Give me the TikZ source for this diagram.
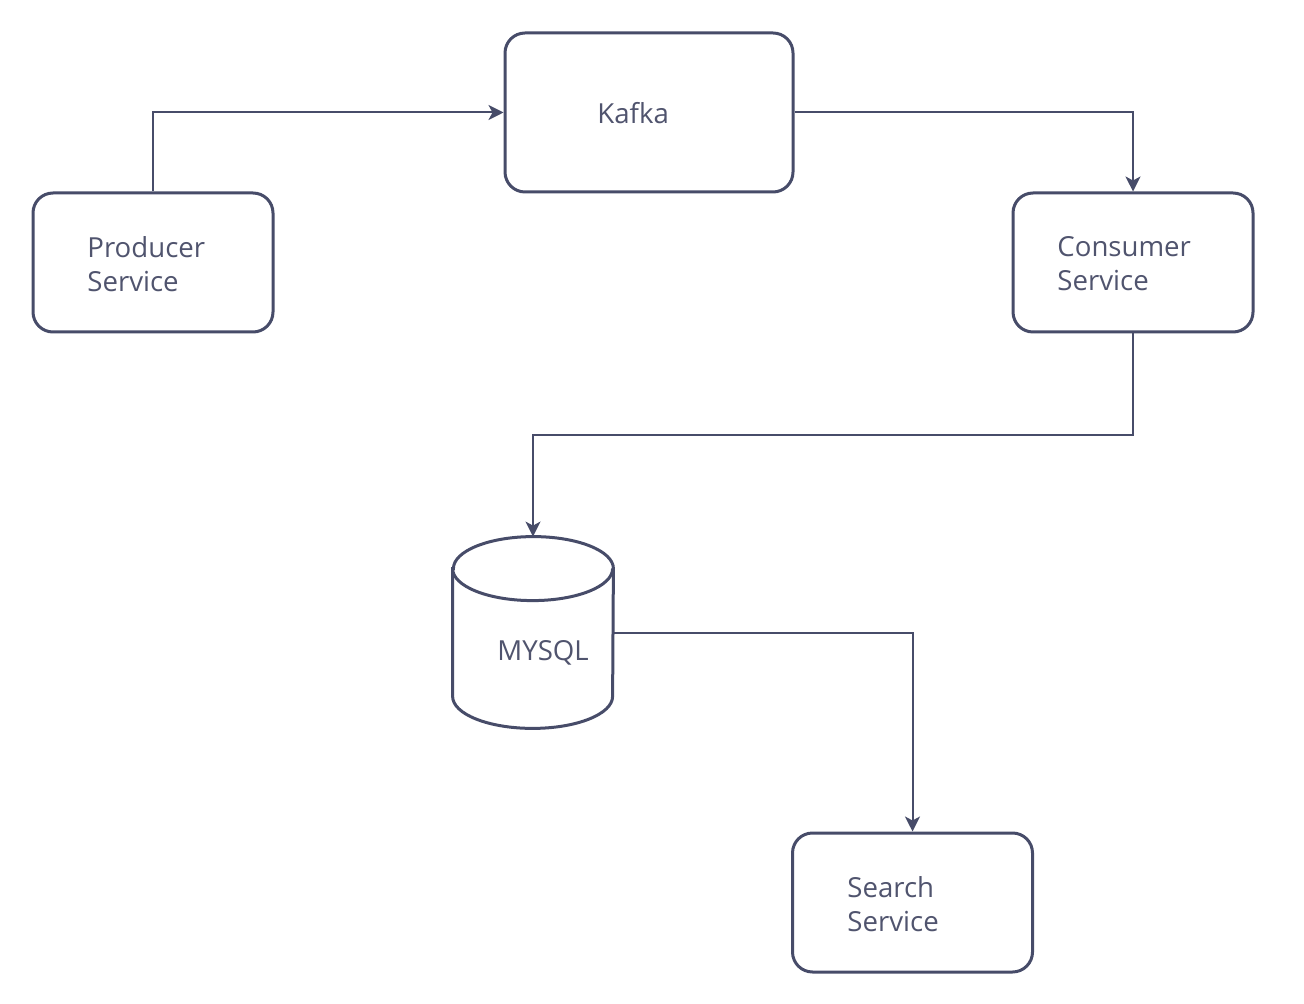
\documentclass[tikz,border=0pt]{standalone}
\usepackage{fontspec}
\setmainfont{Open Sans}
\usetikzlibrary{arrows.meta}
\definecolor{ink}{HTML}{474C69}
\definecolor{txt}{HTML}{50546E}
\tikzset{
  svcbox/.style={draw=ink, line width=1.5pt, rounded corners=10pt, fill=white, minimum width=120pt, minimum height=69.5pt, inner sep=0pt},
  lbl/.style={anchor=west, align=left, text=txt, inner sep=0pt, font=\fontsize{13.8pt}{17pt}\selectfont},
  conn/.style={draw=ink, line width=1pt, -{Stealth[length=7.5pt,width=7.5pt,inset=2pt]}},
}
\begin{document}
\begin{tikzpicture}[x=0.5pt,y=-0.5pt]
\useasboundingbox (0,0) rectangle (1304,1004);
\node[svcbox, minimum width=144pt, minimum height=79.5pt] (kafka) at (649,112.5) {};
\node[svcbox] (producer) at (153,262.5) {};
\node[svcbox] (consumer) at (1133,262.5) {};
\node[svcbox] (search) at (912.5,902.5) {};
\node[minimum width=80pt, minimum height=95.5pt, inner sep=0pt] (mysql) at (533,632.5) {};
% cylinder
\draw[ink, line width=1.5pt, fill=white]
  ([yshift=-16pt]mysql.north west) -- ([yshift=16pt]mysql.south west)
  arc[start angle=180, end angle=360, x radius=40pt, y radius=16pt]
  -- ([yshift=-16pt]mysql.north east)
  arc[start angle=0, end angle=180, x radius=40pt, y radius=16pt] -- cycle;
\draw[ink, line width=1.5pt] ([yshift=-16pt]mysql.north west)
  arc[start angle=180, end angle=360, x radius=40pt, y radius=16pt];
% labels
\node[lbl] (kafkat) at (597,113) {Kafka};
\node[lbl] (prodt) at (87,264) {Producer\\Service};
\node[lbl] (const) at (1057,264) {Consumer\\Service};
\node[lbl] (searcht) at (847,904) {Search\\Service};
\node[lbl] (mysqlt) at (497,653) {MYSQL};
% connectors
\draw[conn] (producer.north) |- (kafka.west);
\draw[conn] (kafka.east) -| (consumer.north);
\draw[conn] (consumer.south) |- (533,435) -- (mysql.north);
\draw[conn] (mysql.east) -| (search.north);
\end{tikzpicture}
\end{document}
